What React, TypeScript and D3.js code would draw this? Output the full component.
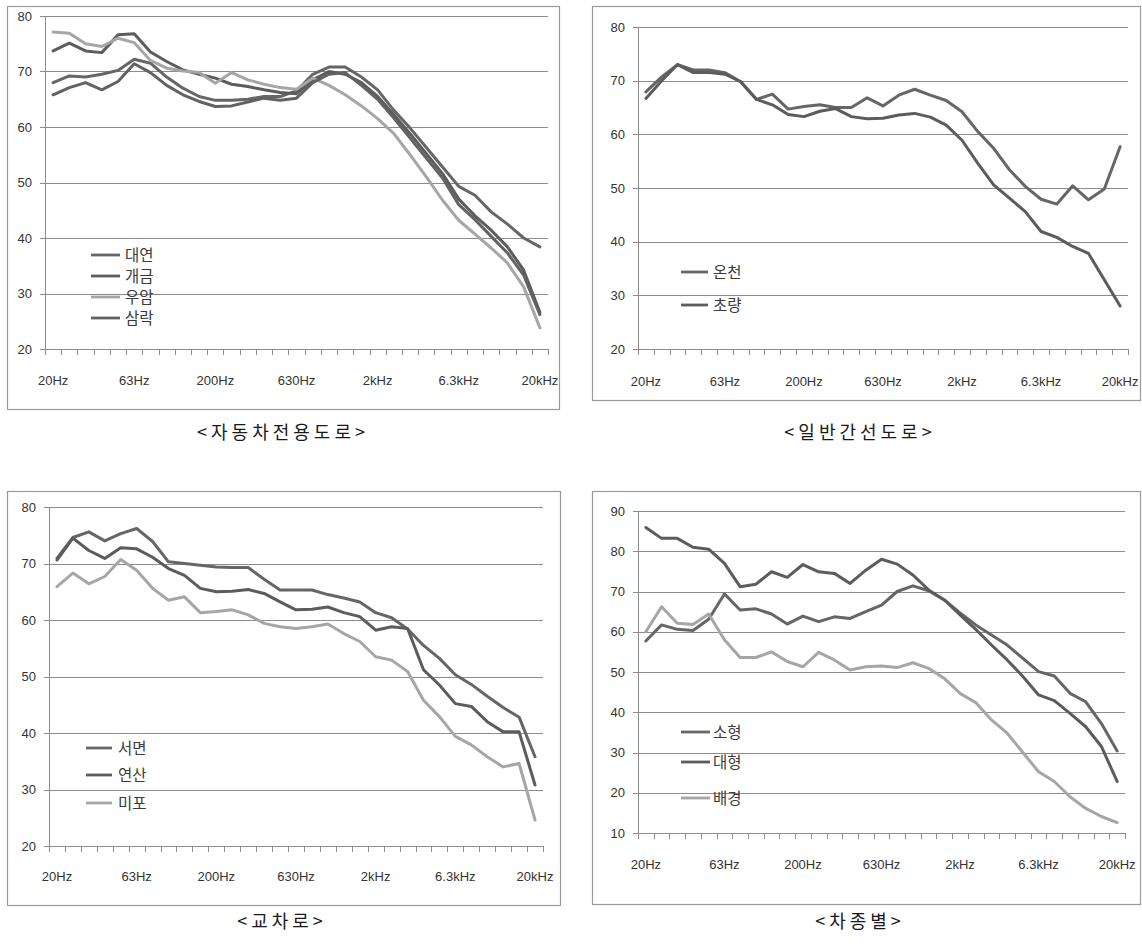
import React from "react";
import * as d3 from "d3";

// One-third octave band centre frequencies (31 bands, 20 Hz – 20 kHz)
const BANDS = [
  "20Hz", "25Hz", "31.5Hz", "40Hz", "50Hz", "63Hz", "80Hz", "100Hz", "125Hz", "160Hz",
  "200Hz", "250Hz", "315Hz", "400Hz", "500Hz", "630Hz", "800Hz", "1kHz", "1.25kHz", "1.6kHz",
  "2kHz", "2.5kHz", "3.15kHz", "4kHz", "5kHz", "6.3kHz", "8kHz", "10kHz", "12.5kHz", "16kHz", "20kHz",
];
const LABELED_BANDS = ["20Hz", "63Hz", "200Hz", "630Hz", "2kHz", "6.3kHz", "20kHz"];

// <자동차전용도로>
const daeyeon = [68, 69.2, 69, 69.5, 70.2, 72.2, 71.5, 69, 67, 65.5, 64.8, 64.8, 65, 65.5, 65.5, 66.5, 69.5, 70.8, 70.8, 69, 66.7, 63, 59.8, 56.3, 52.8, 49.3, 47.7, 44.7, 42.5, 40, 38.4];
const gaegeum = [73.7, 75.1, 73.7, 73.4, 76.6, 76.8, 73.5, 71.8, 70.3, 69.5, 68.8, 67.7, 67.3, 66.7, 66.2, 66, 68.5, 70, 69.5, 68, 65.5, 62.2, 58.8, 55.2, 51.6, 47, 44, 41.4, 38.4, 34.2, 26.6];
const uam = [77.1, 76.9, 75, 74.5, 76, 75.2, 72, 70.6, 70.1, 69.8, 67.9, 69.8, 68.5, 67.7, 67.1, 66.8, 68.8, 67.5, 65.8, 63.8, 61.5, 58.8, 55, 51, 46.8, 43.2, 40.7, 38.2, 35.5, 31.2, 23.8];
const samnak = [65.8, 67.1, 68, 66.7, 68.2, 71.4, 69.8, 67.5, 65.8, 64.6, 63.7, 63.8, 64.5, 65.2, 64.8, 65.2, 68, 69.5, 69.8, 67.5, 65, 61.6, 58, 54.4, 50.8, 46, 43.3, 40.3, 37.3, 33.3, 26.2];

// <일반간선도로>
const oncheon = [67.9, 70.7, 73, 72, 72, 71.5, 69.8, 66.5, 67.5, 64.7, 65.2, 65.5, 65, 65, 66.8, 65.3, 67.3, 68.4, 67.3, 66.3, 64.2, 60.5, 57.4, 53.4, 50.3, 47.9, 47, 50.4, 47.8, 49.8, 57.7];
const choryang = [66.7, 70, 73, 71.5, 71.5, 71.2, 69.8, 66.5, 65.5, 63.7, 63.3, 64.3, 64.8, 63.3, 62.9, 63, 63.6, 63.9, 63.2, 61.7, 58.9, 54.6, 50.6, 48.1, 45.6, 41.9, 40.8, 39.1, 37.8, 32.9, 28];

// <교차로>
const seomyeon = [70.9, 74.6, 75.6, 74, 75.3, 76.2, 73.9, 70.3, 70, 69.7, 69.4, 69.3, 69.3, 67.2, 65.3, 65.3, 65.3, 64.5, 63.9, 63.2, 61.3, 60.4, 58.4, 55.5, 53.2, 50.3, 48.6, 46.5, 44.5, 42.8, 35.8];
const yeonsan = [70.6, 74.5, 72.3, 70.9, 72.8, 72.6, 71.1, 69.1, 67.9, 65.6, 65, 65.1, 65.4, 64.7, 63.2, 61.8, 61.9, 62.3, 61.3, 60.6, 58.2, 58.8, 58.5, 51.2, 48.5, 45.2, 44.7, 42, 40.2, 40.2, 30.8];
const mipo = [65.9, 68.3, 66.4, 67.7, 70.7, 68.8, 65.6, 63.5, 64.1, 61.3, 61.5, 61.8, 60.9, 59.4, 58.8, 58.5, 58.8, 59.3, 57.6, 56.2, 53.5, 52.9, 50.9, 45.8, 42.9, 39.4, 37.9, 35.8, 34, 34.6, 24.6];

// <차종별>
const sohyeong = [57.7, 61.7, 60.6, 60.3, 63.1, 69.4, 65.4, 65.7, 64.4, 61.9, 63.9, 62.5, 63.7, 63.3, 65, 66.6, 70, 71.4, 70.2, 67.9, 64.7, 61.7, 59.2, 56.7, 53.4, 50.1, 49, 44.7, 42.6, 37.2, 30.4];
const daehyeong = [85.9, 83.2, 83.2, 81, 80.5, 77, 71.2, 71.8, 74.9, 73.5, 76.7, 74.9, 74.5, 72, 75.3, 78, 76.8, 74.1, 70.4, 67.9, 64.2, 60.6, 56.7, 53, 48.9, 44.3, 42.9, 39.7, 36.4, 31.5, 22.8];
const baegyeong = [60, 66.2, 62.1, 61.8, 64.4, 58, 53.6, 53.6, 55, 52.6, 51.3, 54.9, 53, 50.5, 51.3, 51.5, 51.1, 52.3, 50.9, 48.4, 44.7, 42.4, 38.1, 34.8, 30, 25.2, 22.8, 19, 16.1, 14.1, 12.6];

const C1 = "#666666";
const C2 = "#5c5c5c";
const C3 = "#a6a6a6";
const C4 = "#626262";

type Series = { name: string; values: number[]; color: string };
type Panel = {
  title: string;
  box: [number, number, number, number];
  plot: { left: number; right: number; top: number; bottom: number };
  yDomain: [number, number];
  xLabelY: number;
  legend: { x1: number; x2: number; tx: number; ys: number[] };
  caption: [number, number];
  series: Series[];
};

const PANELS: Panel[] = [
  {
    title: "<자동차전용도로>",
    box: [7, 6, 552, 403],
    plot: { left: 45, right: 548, top: 16, bottom: 349 },
    yDomain: [20, 80],
    xLabelY: 385,
    legend: { x1: 91, x2: 120, tx: 125, ys: [255, 276, 297, 318] },
    caption: [283, 439],
    series: [
      { name: "대연", values: daeyeon, color: C1 },
      { name: "개금", values: gaegeum, color: C2 },
      { name: "우암", values: uam, color: C3 },
      { name: "삼락", values: samnak, color: C4 },
    ],
  },
  {
    title: "<일반간선도로>",
    box: [592, 6, 548, 394],
    plot: { left: 638, right: 1128, top: 27, bottom: 349 },
    yDomain: [20, 80],
    xLabelY: 386,
    legend: { x1: 681, x2: 708, tx: 713, ys: [272, 305] },
    caption: [860, 439],
    series: [
      { name: "온천", values: oncheon, color: C1 },
      { name: "초량", values: choryang, color: C2 },
    ],
  },
  {
    title: "<교차로>",
    box: [7, 491, 553, 414],
    plot: { left: 49, right: 543, top: 507, bottom: 846 },
    yDomain: [20, 80],
    xLabelY: 881,
    legend: { x1: 86, x2: 112, tx: 118, ys: [748, 775, 803] },
    caption: [282, 928],
    series: [
      { name: "서면", values: seomyeon, color: C1 },
      { name: "연산", values: yeonsan, color: C2 },
      { name: "미포", values: mipo, color: C3 },
    ],
  },
  {
    title: "<차종별>",
    box: [592, 491, 548, 413],
    plot: { left: 638, right: 1125, top: 511, bottom: 833 },
    yDomain: [10, 90],
    xLabelY: 869,
    legend: { x1: 681, x2: 710, tx: 713, ys: [732, 762, 798] },
    caption: [860, 928],
    series: [
      { name: "소형", values: sohyeong, color: C1 },
      { name: "대형", values: daehyeong, color: C2 },
      { name: "배경", values: baegyeong, color: C3 },
    ],
  },
];

const NUM_FONT = "'Liberation Sans', Arial, sans-serif";
const KR_FONT = "'Noto Sans CJK KR', 'Noto Sans', sans-serif";
const GRID = "#8c8c8c";

function SpectrumPanel({ p }: { p: Panel }) {
  const x = d3.scaleBand<string>().domain(BANDS).range([p.plot.left, p.plot.right]).padding(0);
  const y = d3.scaleLinear().domain(p.yDomain).range([p.plot.bottom, p.plot.top]);
  const cx = (b: string) => (x(b) as number) + x.bandwidth() / 2;
  const line = d3
    .line<number>()
    .x((_, i) => cx(BANDS[i]))
    .y((v) => y(v));
  const yTicks = d3.range(p.yDomain[0], p.yDomain[1] + 1, 10);
  const xTicks = d3.range(BANDS.length + 1).map((i) => p.plot.left + i * x.step());
  const [bx, by, bw, bh] = p.box;

  return (
    <g>
      <rect x={bx + 0.5} y={by + 0.5} width={bw} height={bh} fill="#fff" stroke="#9a9a9a" strokeWidth={1.2} />
      {yTicks.map((t) => (
        <g key={t}>
          <line
            x1={p.plot.left - 5}
            x2={p.plot.right}
            y1={Math.round(y(t)) + 0.5}
            y2={Math.round(y(t)) + 0.5}
            stroke={GRID}
            strokeWidth={1}
          />
          <text
            x={p.plot.left - 13}
            y={y(t) + 4.5}
            textAnchor="end"
            fontFamily={NUM_FONT}
            fontSize={13}
            fill="#333"
          >
            {t}
          </text>
        </g>
      ))}
      <line
        x1={p.plot.left + 0.5}
        x2={p.plot.left + 0.5}
        y1={p.plot.top}
        y2={p.plot.bottom}
        stroke={GRID}
        strokeWidth={1}
      />
      {xTicks.map((tx, i) => (
        <line
          key={i}
          x1={Math.round(tx) + 0.5}
          x2={Math.round(tx) + 0.5}
          y1={p.plot.bottom}
          y2={p.plot.bottom + 6}
          stroke={GRID}
          strokeWidth={1}
        />
      ))}
      {LABELED_BANDS.map((b) => (
        <text
          key={b}
          x={cx(b)}
          y={p.xLabelY}
          textAnchor="middle"
          fontFamily={NUM_FONT}
          fontSize={13}
          fill="#333"
        >
          {b}
        </text>
      ))}
      {p.series.map((s) => (
        <path
          key={s.name}
          d={line(s.values) || ""}
          fill="none"
          stroke={s.color}
          strokeWidth={3}
          strokeLinejoin="round"
          strokeLinecap="round"
        />
      ))}
      {p.series.map((s, i) => (
        <g key={s.name}>
          <line
            x1={p.legend.x1}
            x2={p.legend.x2}
            y1={p.legend.ys[i]}
            y2={p.legend.ys[i]}
            stroke={s.color}
            strokeWidth={2.8}
          />
          <text
            x={p.legend.tx}
            y={p.legend.ys[i] + 6}
            fontFamily={KR_FONT}
            fontSize={15.5}
            fill="#3a3a3a"
          >
            {s.name}
          </text>
        </g>
      ))}
      <text
        x={p.caption[0]}
        y={p.caption[1]}
        textAnchor="middle"
        fontFamily={KR_FONT}
        fontSize={18}
        letterSpacing={4}
        fill="#1a1a1a"
      >
        {p.title}
      </text>
    </g>
  );
}

export default function App() {
  return (
    <svg
      width={1142}
      height={945}
      viewBox="0 0 1142 945"
      style={{ position: "absolute", left: 0, top: 0, background: "#fff" }}
    >
      <rect x={0} y={0} width={1142} height={945} fill="#fff" />
      {PANELS.map((p) => (
        <SpectrumPanel key={p.title} p={p} />
      ))}
    </svg>
  );
}
